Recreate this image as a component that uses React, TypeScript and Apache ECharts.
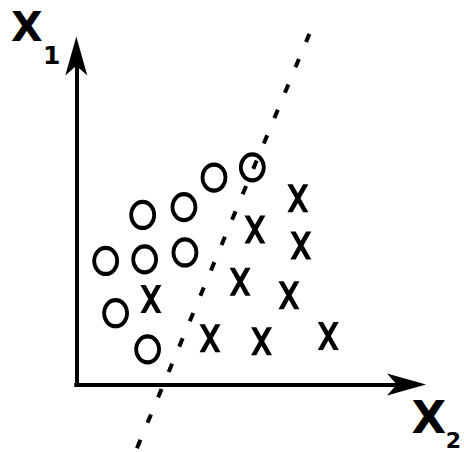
import React, { useEffect, useRef } from "react";
import * as echarts from "echarts";

// Class "O" samples (x2, x1)
const circlePoints: [number, number][] = [
  [2.01, 5.16],
  [3.26, 5.40],
  [0.89, 3.76],
  [2.07, 3.81],
  [3.29, 4.02],
  [1.19, 2.17],
  [2.16, 1.07],
  [4.17, 6.30],
  [5.33, 6.61],
];

// Class "X" samples (x2, x1)
const crossPoints: [number, number][] = [
  [2.26, 2.60],
  [6.71, 5.67],
  [5.41, 4.72],
  [6.80, 4.23],
  [4.96, 3.13],
  [6.44, 2.72],
  [4.05, 1.41],
  [5.61, 1.32],
  [7.63, 1.48],
];

// Separating (dotted) line end points
const boundary: [number, number][] = [
  [1.837, -1.938],
  [7.06, 10.674],
];

const axisMax = 10;

const ELLIPSE =
  "path://M50,0 C77.6,0 100,22.4 100,50 C100,77.6 77.6,100 50,100 C22.4,100 0,77.6 0,50 C0,22.4 22.4,0 50,0 Z";
const CROSS =
  "path://M0,0 L5,0 L10,9.33 L15,0 L20,0 L12.5,14 L20,28 L15,28 L10,18.67 L5,28 L0,28 L7.5,14 Z";

export default function App() {
  const ref = useRef<HTMLDivElement>(null);
  useEffect(() => {
    if (!ref.current) return;
    const chart = echarts.init(ref.current, null, { renderer: "svg" });
    const axisCommon = {
      type: "value" as const,
      min: 0,
      max: axisMax,
      splitLine: { show: false },
      axisTick: { show: false },
      axisLabel: { show: false },
      axisLine: {
        show: true,
        symbol: ["none", "arrow"],
        symbolSize: [16.5, 39],
        symbolOffset: [0, 19.5],
        lineStyle: { color: "#000", width: 4, cap: "square" },
      },
    };
    chart.setOption({
      animation: false,
      backgroundColor: "#fff",
      grid: {
        left: 76.3,
        right: 57.5,
        top: 56,
        bottom: 67.5,
        containLabel: false,
        outerBoundsMode: "none",
      },
      xAxis: axisCommon,
      yAxis: axisCommon,
      graphic: [
        {
          type: "text",
          x: 26.7,
          y: 26.7,
          style: {
            text: "X",
            font: 'bold 41px "DejaVu Sans"',
            fill: "#000",
            textAlign: "center",
            textVerticalAlign: "middle",
            align: "center",
            verticalAlign: "middle",
          },
        },
        {
          type: "text",
          x: 51.7,
          y: 55.8,
          style: {
            text: "1",
            font: 'bold 25px "DejaVu Sans"',
            fill: "#000",
            textAlign: "center",
            textVerticalAlign: "middle",
            align: "center",
            verticalAlign: "middle",
          },
        },
        {
          type: "text",
          x: 428.8,
          y: 417,
          style: {
            text: "X",
            font: 'bold 45px "DejaVu Sans"',
            fill: "#000",
            textAlign: "center",
            textVerticalAlign: "middle",
            align: "center",
            verticalAlign: "middle",
          },
        },
        {
          type: "text",
          x: 453.5,
          y: 440,
          style: {
            text: "2",
            font: 'bold 22px "DejaVu Sans"',
            fill: "#000",
            textAlign: "center",
            textVerticalAlign: "middle",
            align: "center",
            verticalAlign: "middle",
          },
        },
      ],
      series: [
        {
          type: "line",
          data: boundary,
          symbol: "none",
          clip: false,
          silent: true,
          z: 1,
          lineStyle: { color: "#000", width: 4, type: [9, 18.5], cap: "butt" },
        },
        {
          type: "scatter",
          data: circlePoints,
          symbol: ELLIPSE,
          symbolSize: [23, 26],
          silent: true,
          z: 3,
          itemStyle: {
            color: "rgba(0,0,0,0)",
            borderColor: "#000",
            borderWidth: 4,
            opacity: 1,
          },
        },
        {
          type: "scatter",
          data: crossPoints,
          symbol: CROSS,
          symbolSize: [21, 28],
          silent: true,
          z: 3,
          itemStyle: { color: "#000", borderWidth: 0, opacity: 1 },
        },
      ],
    });
    return () => chart.dispose();
  }, []);
  return (
    <div
      ref={ref}
      style={{ position: "absolute", left: 0, top: 0, width: 464, height: 452 }}
    />
  );
}
